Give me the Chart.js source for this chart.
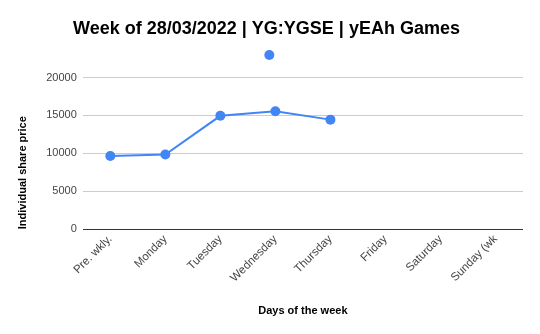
<!DOCTYPE html>
<html>
<head>
<meta charset="utf-8">
<script src="https://cdn.jsdelivr.net/npm/chart.js@4"></script>
<style>
  html, body { margin: 0; padding: 0; background: #fff; }
  #wrap { width: 540px; height: 334px; position: relative; }
</style>
</head>
<body>
<div id="wrap"><canvas id="chart"></canvas></div>
<script>
const days = ['Pre. wkly.', 'Monday', 'Tuesday', 'Wednesday', 'Thursday', 'Friday', 'Saturday', 'Sunday (wk'];
const sharePrice = [9650, 9850, 14950, 15550, 14450];
// stray point sitting just left of Wednesday
const outlierX = [2.89];
const outlierY = [22980];
const yTicks = [0, 5000, 10000, 15000, 20000];

const blue = '#4285F4';

new Chart(document.getElementById('chart'), {
  type: 'line',
  data: {
    datasets: [
      {
        data: sharePrice.map((v, i) => ({ x: i, y: v })),
        borderColor: blue, backgroundColor: blue,
        borderWidth: 2, pointRadius: 5, pointBorderWidth: 0, tension: 0
      },
      {
        data: outlierX.map((x, i) => ({ x: x, y: outlierY[i] })),
        borderColor: blue, backgroundColor: blue,
        showLine: false, pointRadius: 5, pointBorderWidth: 0
      }
    ]
  },
  options: {
    responsive: true, maintainAspectRatio: false, animation: false,
    layout: { padding: { left: 10, right: 17, top: 2, bottom: 12 } },
    plugins: {
      legend: { display: false }, tooltip: { enabled: false },
      title: {
        display: true, text: 'Week of 28/03/2022 | YG:YGSE | yEAh Games',
        color: '#000', font: { family: 'Liberation Sans', size: 18, weight: 'bold' },
        padding: { top: 16, bottom: 0 }
      }
    },
    scales: {
      x: {
        type: 'linear', min: -0.5, max: 7.5,
        afterBuildTicks: ax => { ax.ticks = days.map((d, i) => ({ value: i })); },
        ticks: {
          color: '#444', font: { family: 'Liberation Sans', size: 11.5 },
          minRotation: 45, maxRotation: 45, autoSkip: false,
          callback: v => days[v]
        },
        grid: { display: false, drawTicks: false },
        border: { display: false },
        title: {
          display: true, text: 'Days of the week', color: '#000',
          font: { family: 'Liberation Sans', size: 11, weight: 'bold' },
          padding: { top: 17 }
        }
      },
      y: {
        min: 0, max: 25000,
        afterBuildTicks: ax => { ax.ticks = yTicks.map(v => ({ value: v })); },
        ticks: {
          color: '#444', font: { family: 'Liberation Sans', size: 11 }, padding: 6,
          callback: v => String(v)
        },
        grid: {
          color: c => c.tick.value === 0 ? '#333' : '#ccc',
          drawTicks: false
        },
        border: { display: false },
        title: {
          display: true, text: 'Individual share price', color: '#000',
          align: 'start',
          font: { family: 'Liberation Sans', size: 11, weight: 'bold' },
          padding: { top: 6, bottom: 11 }
        }
      }
    }
  }
});
</script>
</body>
</html>
